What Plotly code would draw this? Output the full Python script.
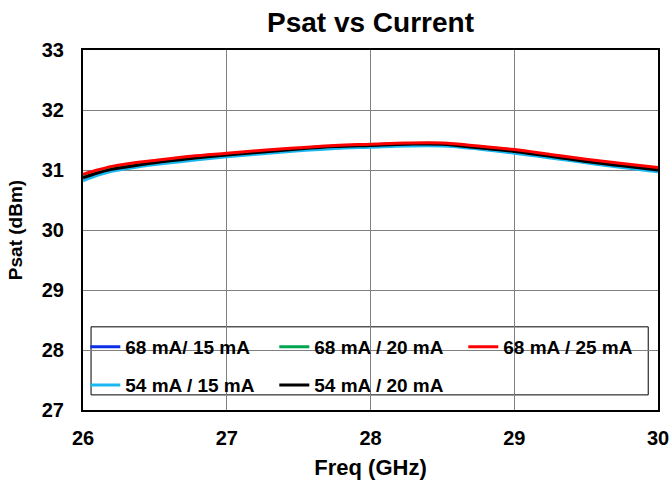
import plotly.graph_objects as go

freq = [26.0, 26.1, 26.2, 26.3, 26.5, 26.75, 27.0, 27.25, 27.5, 27.75,
        28.0, 28.25, 28.5, 28.75, 29.0, 29.25, 29.5, 29.75, 30.0]

psat_68_25 = [30.93, 31.00, 31.06, 31.10, 31.16, 31.23, 31.28, 31.33, 31.37, 31.41,
              31.43, 31.45, 31.45, 31.40, 31.34, 31.26, 31.18, 31.11, 31.04]
psat_68_20 = [30.90, 30.98, 31.04, 31.08, 31.14, 31.21, 31.26, 31.31, 31.36, 31.40,
              31.42, 31.44, 31.44, 31.39, 31.33, 31.25, 31.16, 31.09, 31.02]
psat_68_15 = [30.89, 30.97, 31.03, 31.07, 31.13, 31.20, 31.25, 31.30, 31.35, 31.39,
              31.41, 31.43, 31.43, 31.38, 31.32, 31.24, 31.16, 31.09, 31.02]
psat_54_20 = [30.87, 30.95, 31.01, 31.05, 31.12, 31.19, 31.25, 31.30, 31.35, 31.39,
              31.41, 31.43, 31.43, 31.37, 31.31, 31.23, 31.14, 31.07, 31.00]
psat_54_15 = [30.82, 30.91, 30.98, 31.02, 31.09, 31.16, 31.22, 31.27, 31.32, 31.36,
              31.38, 31.40, 31.40, 31.35, 31.28, 31.20, 31.12, 31.04, 30.97]

font = "Liberation Sans, Arial, sans-serif"

# draw order: blue, green under the rest, red on top
series = [
    ("68 mA/ 15 mA", psat_68_15, "#0b2ee6", "legend"),
    ("68 mA / 20 mA", psat_68_20, "#00a550", "legend"),
    ("54 mA / 15 mA", psat_54_15, "#1ab8f0", "legend2"),
    ("54 mA / 20 mA", psat_54_20, "#000000", "legend2"),
    ("68 mA / 25 mA", psat_68_25, "#ff0000", "legend"),
]
rank = {"68 mA/ 15 mA": 1, "68 mA / 20 mA": 2, "68 mA / 25 mA": 3,
        "54 mA / 15 mA": 4, "54 mA / 20 mA": 5}

fig = go.Figure()
for name, ys, color, leg in series:
    fig.add_trace(go.Scatter(
        x=freq, y=ys, name=name, mode="lines", line_shape="spline",
        line=dict(color=color, width=3), legend=leg, legendrank=rank[name],
    ))

legend_common = dict(
    orientation="h", xanchor="left", yanchor="middle",
    font=dict(family=font, size=19, color="black", weight="bold"),
    bgcolor="rgba(0,0,0,0)", borderwidth=0,
    entrywidth=144, entrywidthmode="pixels", itemwidth=30,
)

fig.update_layout(
    width=670, height=481,
    margin=dict(l=83, r=12, t=50, b=71),
    paper_bgcolor="white", plot_bgcolor="white",
    title=dict(text="<b>Psat vs Current</b>", x=0.5, xref="paper", xanchor="center",
               y=0.954, yanchor="middle", automargin=False,
               font=dict(family=font, size=28, color="black")),
    xaxis=dict(
        range=[26, 30], dtick=1, showgrid=True, gridcolor="#808080", gridwidth=1,
        showline=True, linecolor="black", linewidth=2, mirror=True,
        ticks="outside", ticklen=9, tickcolor="rgba(0,0,0,0)",
        tickfont=dict(family=font, size=20, color="black", weight="bold"),
        title=dict(text="<b>Freq (GHz)</b>", standoff=12,
                   font=dict(family=font, size=22, color="black")),
        zeroline=False, automargin=False,
    ),
    yaxis=dict(
        range=[27, 33], dtick=1, showgrid=True, gridcolor="#808080", gridwidth=1,
        showline=True, linecolor="black", linewidth=2, mirror=True,
        ticks="outside", ticklen=13, tickcolor="rgba(0,0,0,0)",
        tickfont=dict(family=font, size=20, color="black", weight="bold"),
        title=dict(text="<b>Psat (dBm)</b>", standoff=14,
                   font=dict(family=font, size=19, color="black")),
        zeroline=False, automargin=False,
    ),
    legend=dict(x=0.004, y=0.175, **legend_common),
    legend2=dict(x=0.004, y=0.069, **legend_common),
    shapes=[dict(type="rect", xref="paper", yref="paper",
                 x0=0.014, x1=0.983, y0=0.042, y1=0.231,
                 line=dict(color="black", width=1), fillcolor="white", layer="below")],
)

# drop the page's default body margin so the figure sits at the window's corner
fig.write_html("out.html", config={"displayModeBar": False},
               post_script="document.body.style.margin='0';")
